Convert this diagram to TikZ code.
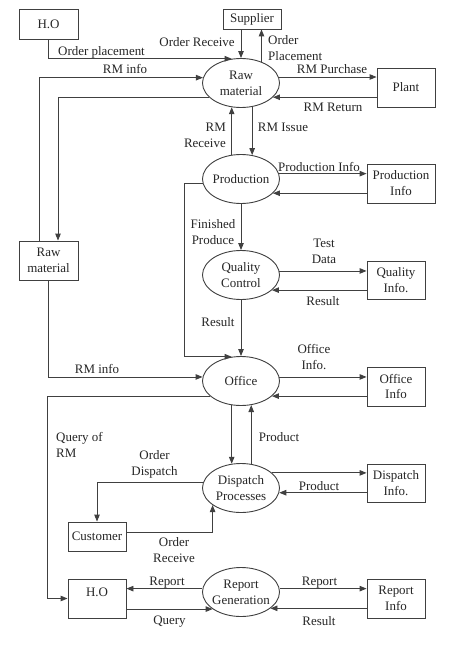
\documentclass[tikz,border=0pt]{standalone}
\usepackage{fontspec}
\setmainfont{Liberation Serif}
\usetikzlibrary{shapes.geometric,arrows.meta,calc}
\begin{document}
\begin{tikzpicture}[x=1bp,y=-1bp,
  every node/.style={font=\fontsize{13}{16}\selectfont, text=black!85},
  box/.style={draw=black!75, line width=0.9bp, rectangle, inner sep=1bp, align=center},
  proc/.style={draw=black!75, line width=0.9bp, ellipse, minimum width=77bp, minimum height=49bp, inner xsep=-4bp, inner ysep=0bp, align=center},
  lab/.style={align=center, inner sep=0bp},
  flow/.style={draw=black!75, line width=0.9bp, -{Triangle[length=7bp,width=5.5bp]}}]
\useasboundingbox[fill=white] (0,0) rectangle (474,667);
% boxes
\node[box, minimum width=59bp, minimum height=30bp] (hoT) at (48.5,24) {H.O};
\node[box, minimum width=58bp, minimum height=20bp] (supp) at (252,19) {Supplier};
\node[box, minimum width=58bp, minimum height=39bp] (plant) at (406,87.5) {Plant};
\node[box, minimum width=68bp, minimum height=39bp] (pinfo) at (401,183.5) {Production\\Info};
\node[box, minimum width=58bp, minimum height=38bp] (qinfo) at (396,280) {Quality\\Info.};
\node[box, minimum width=58bp, minimum height=39bp] (oinfo) at (396,386.5) {Office\\Info};
\node[box, minimum width=58bp, minimum height=38bp] (dinfo) at (396,483) {Dispatch\\Info.};
\node[box, minimum width=58bp, minimum height=39bp] (rinfo) at (396,598.5) {Report\\Info};
\node[box, minimum width=59bp, minimum height=39bp] (rmB) at (48.5,260.5) {Raw\\material};
\node[box, minimum width=58bp, minimum height=29bp] (cust) at (97,536.5) {Customer};
\node[box, minimum width=58bp, minimum height=39bp, text depth=13bp] (hoB) at (97,598.5) {H.O};
% processes
\node[proc] (rawE) at (241,83) {Raw\\material};
\node[proc] (prodE) at (241,179) {Production};
\node[proc] (qcE) at (241,275) {Quality\\Control};
\node[proc] (offE) at (241,381) {Office};
\node[proc] (dispE) at (241,488) {Dispatch\\Processes};
\node[proc] (genE) at (241,592) {Report\\Generation};
% connectors
\draw[flow] (hoT.south) |- (rawE.111);
\draw[flow] (supp.south -| rawE.north) -- (rawE.north);
\draw[flow] (rawE.46) -- (rawE.46 |- supp.south);
\draw[flow] ($(rmB.north)+(-9.5,0)$) |- (rawE.172);
\draw[flow] (rawE.204) -| ($(rmB.north)+(9.5,0)$);
\draw[flow] (rawE.9) -- (rawE.9 -| plant.west);
\draw[flow] (rawE.-24 -| plant.west) -- (rawE.-24);
\draw[flow] (rawE.-65) -- (prodE.65);
\draw[flow] (prodE.111) -- (rawE.-111);
\draw[flow] (prodE.8) -- (prodE.8 -| pinfo.west);
\draw[flow] (prodE.-24 -| pinfo.west) -- (prodE.-24);
\coordinate (cx) at (184,300);
\draw[flow] (prodE.186) -| (cx |- offE.111) -- (offE.111);
\draw[flow] (prodE.south) -- (qcE.north);
\draw[flow] (qcE.6) -- (qcE.6 -| qinfo.west);
\draw[flow] (qcE.-26 -| qinfo.west) -- (qcE.-26);
\draw[flow] (qcE.south) -- (offE.north);
\draw[flow] (rmB.south) |- (offE.174);
\draw[flow] (offE.6) -- (offE.6 -| oinfo.west);
\draw[flow] (offE.-26 -| oinfo.west) -- (offE.-26);
\draw[flow] (offE.206) -| ($(hoB.west)+(-20,0)$) -- (hoB.west);
\draw[flow] (offE.-111) -- (dispE.111);
\draw[flow] (dispE.67) -- (offE.-67);
\draw[flow] (dispE.172) -| (cust.north);
\draw[flow] ($(cust.east)+(0,-4.5)$) -| (dispE.-149);
\draw[flow] (dispE.26) -- (dispE.26 -| dinfo.west);
\draw[flow] (dispE.-7 -| dinfo.west) -- (dispE.-7);
\draw[flow] (genE.175) -- (genE.175 -| hoB.east);
\draw[flow] (genE.-149 -| hoB.east) -- (genE.-149);
\draw[flow] (genE.5) -- (genE.5 -| rinfo.west);
\draw[flow] (genE.-29 -| rinfo.west) -- (genE.-29);
% labels
\node[lab] (l1) at (101.5,52) {Order placement};
\node[lab] (l2) at (197,42) {Order Receive};
\node[lab, align=left, anchor=west] (l3) at (268,48) {Order\\Placement};
\node[lab] (l4) at (125,69) {RM info};
\node[lab] (l5) at (332,69) {RM Purchase};
\node[lab] (l6) at (333,107) {RM Return};
\node[lab, align=right, anchor=east] (l7) at (226,135) {RM\\Receive};
\node[lab] (l8) at (283,127) {RM Issue};
\node[lab] (l9) at (319,167) {Production Info};
\node[lab] (l10) at (213,232) {Finished\\Produce};
\node[lab] (l11) at (324,251) {Test\\Data};
\node[lab] (l12) at (323,301) {Result};
\node[lab] (l13) at (218,322) {Result};
\node[lab] (l14) at (97,369) {RM info};
\node[lab] (l15) at (314,357) {Office\\Info.};
\node[lab, align=left, anchor=west] (l16) at (56,445) {Query of\\RM};
\node[lab] (l17) at (154.5,464) {Order\\Dispatch};
\node[lab] (l18) at (279,437) {Product};
\node[lab] (l19) at (319,486) {Product};
\node[lab] (l20) at (174,550) {Order\\Receive};
\node[lab] (l21) at (167,583) {Report};
\node[lab] (l22) at (169.5,622) {Query};
\node[lab] (l23) at (319.5,583) {Report};
\node[lab] (l24) at (319,621) {Result};
\end{tikzpicture}
\end{document}
